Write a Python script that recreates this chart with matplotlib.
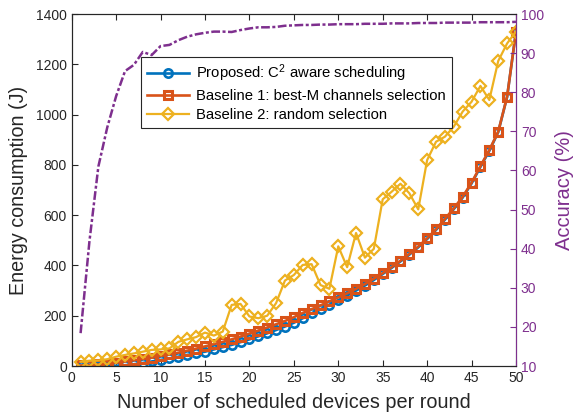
import numpy as np
import matplotlib
matplotlib.use('Agg')
from matplotlib import pyplot as plt

plt.rcParams['font.family'] = ['Liberation Sans', 'DejaVu Sans']
plt.rcParams['mathtext.fontset'] = 'custom'
plt.rcParams['mathtext.rm'] = 'Liberation Sans'
plt.rcParams['mathtext.it'] = 'Liberation Sans'

devices = list(range(1, 51))

energy_proposed = [0, 0, 0, 0, 1, 3, 7, 12, 18, 24,
                   30, 37, 44, 50, 57, 66, 75, 84, 95, 106,
                   118, 130, 143, 157, 172, 190, 210, 226, 244, 262,
                   280, 300, 320, 342, 366, 390, 416, 443, 472, 505,
                   541, 582, 624, 670, 726, 792, 856, 930, 1070, 1330]

energy_best_m = [2, 4, 6, 9, 13, 18, 23, 28, 33, 40,
                 46, 53, 61, 69, 78, 87, 96, 106, 117, 129,
                 141, 153, 166, 179, 194, 211, 226, 241, 257, 273,
                 289, 307, 326, 347, 369, 393, 419, 446, 475, 508,
                 544, 585, 627, 673, 729, 795, 859, 932, 1071, 1330]

energy_random = [17, 21, 22, 27, 37, 44, 50, 57, 64, 66,
                 70, 96, 106, 115, 133, 121, 137, 243, 247, 197,
                 190, 200, 250, 340, 362, 402, 405, 322, 307, 476,
                 393, 529, 431, 466, 663, 693, 725, 687, 623, 819,
                 892, 912, 952, 1012, 1051, 1114, 1058, 1213, 1283, 1330]

accuracy = [18.4, 42, 61, 71, 79, 85.4, 87, 90.3, 89.5, 91.8,
            92.1, 93.3, 94.2, 94.8, 95.2, 95.5, 95.5, 95.4, 95.9, 96.3,
            96.6, 96.6, 96.7, 97.0, 97.1, 97.2, 97.2, 97.3, 97.3, 97.4,
            97.4, 97.4, 97.5, 97.5, 97.5, 97.6, 97.6, 97.6, 97.7, 97.7,
            97.7, 97.8, 97.8, 97.8, 97.8, 97.9, 97.9, 97.9, 97.9, 98.0]

labels = ['Proposed: C$^2$ aware scheduling',
          'Baseline 1: best-M channels selection',
          'Baseline 2: random selection']

blue, orange, yellow, purple = '#0072BD', '#D95319', '#EDB120', '#7E2F8E'
dark = '#262626'

fig = plt.figure(figsize=(5.76, 4.17), dpi=100)
ax = fig.add_axes([0.1245, 0.1223, 0.7713, 0.8441])

l1, = ax.plot(devices, energy_proposed, '-o', color=blue, lw=1.9, ms=6,
              mfc='none', mew=1.9, label=labels[0])
l2, = ax.plot(devices, energy_best_m, '-s', color=orange, lw=1.9, ms=5.5,
              mfc='none', mew=2.2, label=labels[1])
l3, = ax.plot(devices, energy_random, '-D', color=yellow, lw=1.6, ms=6,
              mfc='none', mew=1.6, label=labels[2])

ax.set_xlim(0, 50)
ax.set_ylim(0, 1400)
ax.set_xticks(range(0, 51, 5))
ax.set_yticks(range(0, 1401, 200))
ax.set_xlabel('Number of scheduled devices per round', fontsize=14.3, color=dark, labelpad=6)
ax.set_ylabel('Energy consumption (J)', fontsize=14.2, color=dark, labelpad=6)
ax.tick_params(axis='both', direction='in', labelsize=10, colors=dark, length=4, width=0.8)
ax.tick_params(axis='x', top=True)
for s in ax.spines.values():
    s.set_color(dark)
    s.set_linewidth(0.8)

ax2 = ax.twinx()
ax2.plot(devices, accuracy, '-.', color=purple, lw=1.8, dashes=(3.5, 1.0, 1.2, 1.0))
ax2.set_ylim(10, 100)
ax2.set_yticks(range(10, 101, 10))
ax2.set_ylabel('Accuracy (%)', fontsize=14.5, color=purple, labelpad=8)
ax2.tick_params(axis='y', direction='in', labelsize=10, colors=purple, length=4, width=0.8)
ax2.spines['right'].set_color(purple)
ax2.spines['right'].set_linewidth(0.8)
for k in ['left', 'top', 'bottom']:
    ax2.spines[k].set_color(dark)
    ax2.spines[k].set_linewidth(0.8)

leg = ax2.legend([l1, l2, l3], labels, loc='upper left', bbox_to_anchor=(0.156, 0.878),
                 borderaxespad=0, fontsize=10.7, handlelength=2.8, labelspacing=0.33,
                 fancybox=False, framealpha=1, edgecolor=dark, borderpad=0.4, handletextpad=0.5)
leg.get_frame().set_linewidth(0.8)

plt.savefig('out.png', dpi=100)
